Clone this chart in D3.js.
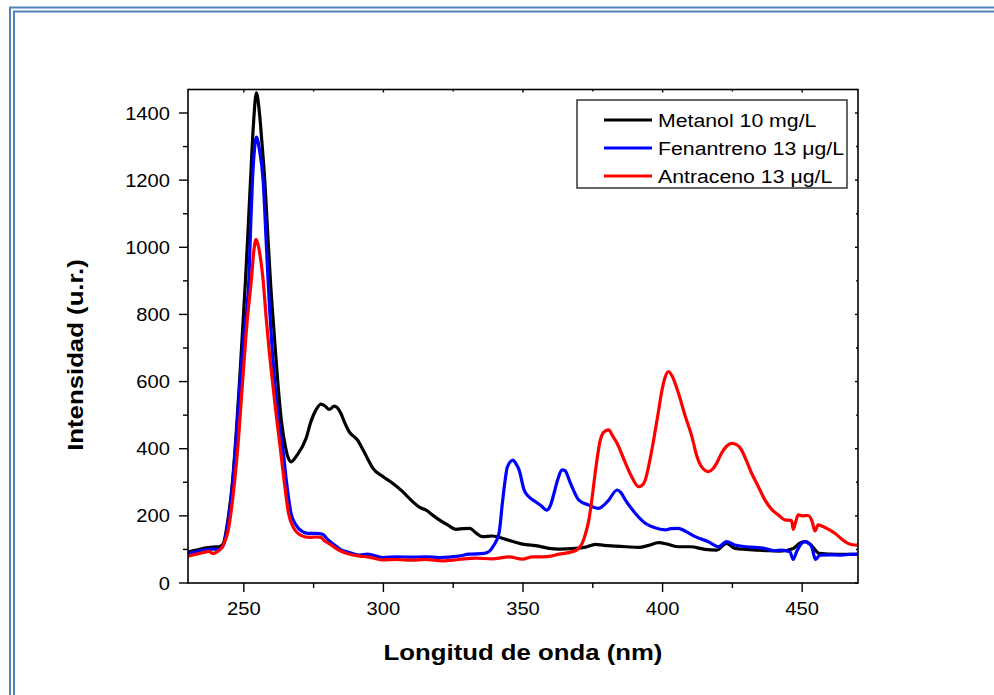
<!DOCTYPE html>
<meta charset="utf-8">
<style>
body { margin: 0; background: #fff; }
text { font-family: "Liberation Sans", Arial, sans-serif; fill: #000; }
</style>
<body>
<script src="https://cdn.jsdelivr.net/npm/d3@7"></script>
<script>
'use strict';

// emission spectra (nm, u.r.)
const metanolX = [230, 233, 236, 239, 241, 242.5, 244.3, 246, 247.3, 248.5, 249.6, 250.6, 251.5, 252.4, 253.4, 254.5, 255.6, 256.5, 257.5, 258.5, 259.5, 260.8, 262.1, 263.5, 264.9, 265.8, 266.9, 269, 272.3, 274, 275.8, 277.6, 279, 280.6, 282.4, 284.8, 286, 287.7, 290.7, 292.5, 294.3, 296.2, 299.8, 303.3, 306.9, 310.5, 313, 315.3, 318, 320, 323, 326, 328.5, 331, 333, 335.5, 339, 343.8, 349.8, 355.7, 359.3, 363, 368.8, 372, 376, 379, 383.1, 387, 391.4, 395, 398.6, 402, 405.7, 410, 415.2, 419.4, 422.9, 426, 430, 434.3, 438, 442, 446.8, 449, 451, 453, 454.5, 456, 460, 465, 470];
const metanolY = [93, 98, 104, 107, 108, 115, 188, 307, 450, 605, 760, 903, 1050, 1200, 1360, 1460, 1400, 1310, 1200, 1050, 903, 750, 605, 480, 406, 375, 361, 380, 431, 480, 515, 533, 528, 517, 527, 505, 480, 451, 426, 400, 371, 342, 317, 297, 272, 242, 225, 217, 200, 188, 173, 160, 162, 163, 150, 138, 140, 130, 116, 110, 103, 101, 103, 106, 115, 112, 110, 108, 106, 112, 120, 115, 108, 108, 100, 98, 118, 103, 100, 98, 96, 95, 103, 118, 123, 115, 100, 88, 86, 85, 85];

const fenantrenoX = [230, 233, 236, 239, 241, 242.5, 244.3, 246, 247.5, 248.7, 250.3, 251.8, 252.4, 253.1, 253.8, 254.5, 255.6, 256.9, 258.1, 259.2, 260.2, 261.2, 262.5, 263.9, 265.3, 266.9, 268.5, 271, 273, 276, 278.2, 280, 283, 285, 287, 291.4, 294.3, 299.8, 305, 310, 315.3, 320, 327, 330.7, 336, 338, 339.6, 341.4, 342.6, 343.5, 344.4, 346.4, 347.5, 348.6, 350.4, 352.1, 354.5, 356.5, 358.5, 360, 361.1, 362.5, 364, 365, 367, 370, 373.6, 377.1, 379, 380.7, 383.7, 385, 386.7, 390.2, 393.8, 397, 401, 403, 405.7, 408, 411.7, 416.4, 420, 422.9, 425.9, 430, 433.1, 436, 440.2, 442.6, 445.6, 446.8, 448, 449.5, 451, 452.3, 453.4, 454.8, 456.3, 460, 464, 467, 470];
const fenantrenoY = [88, 94, 99, 101, 100, 110, 178, 300, 460, 605, 760, 903, 1050, 1200, 1290, 1328, 1290, 1200, 1000, 820, 690, 590, 480, 406, 300, 208, 175, 153, 148, 148, 145, 130, 110, 98, 93, 83, 86, 76, 78, 77, 78, 76, 80, 86, 88, 95, 113, 148, 237, 300, 346, 366, 355, 337, 277, 257, 242, 230, 217, 235, 267, 310, 337, 335, 297, 247, 232, 222, 232, 247, 277, 270, 247, 208, 178, 165, 158, 162, 163, 155, 138, 123, 108, 123, 113, 108, 106, 104, 96, 98, 93, 70, 93, 115, 123, 118, 108, 70, 83, 84, 83, 85, 86];

const antracenoX = [230, 233, 236, 237.5, 238.9, 240.5, 241.9, 243, 244.3, 246, 247.8, 249.6, 251.2, 252.7, 253.6, 254.4, 255.3, 256.1, 256.9, 258, 259.1, 260.2, 261.6, 263, 264.5, 266, 267.8, 270.5, 273.5, 276, 277.6, 279, 281, 284, 287, 291.4, 294.3, 299.8, 305, 310, 315, 321.2, 327, 333.1, 339, 345, 349.8, 353.3, 357, 360, 362.9, 367.6, 369.5, 371.2, 372.5, 373.6, 375, 376, 377.7, 379, 380.7, 382, 383.7, 386.7, 389, 391.4, 392.5, 393.8, 395.3, 396.8, 398.3, 399.8, 401, 402.1, 403.5, 405.7, 408, 410.5, 412.2, 414, 416.4, 418, 419.4, 421, 423, 424.8, 426.5, 428.3, 430, 431.9, 434.3, 436.7, 439, 441.4, 443.8, 446.2, 446.8, 447.6, 448.6, 450, 452.1, 453.5, 454.6, 455.7, 457, 459, 461.7, 464, 466.4, 468, 470];
const antracenoY = [80, 86, 92, 94, 88, 93, 103, 120, 153, 250, 400, 605, 780, 903, 990, 1024, 1000, 960, 903, 790, 690, 605, 500, 406, 300, 208, 165, 142, 136, 137, 136, 125, 115, 98, 88, 80, 78, 69, 70, 68, 70, 66, 70, 74, 72, 78, 71, 78, 78, 80, 86, 93, 100, 118, 150, 188, 270, 337, 426, 450, 456, 440, 416, 357, 315, 287, 290, 307, 360, 426, 500, 575, 615, 630, 615, 565, 500, 436, 380, 346, 332, 340, 357, 385, 408, 416, 412, 396, 365, 327, 287, 247, 220, 203, 188, 186, 160, 180, 203, 200, 201, 185, 155, 173, 170, 162, 148, 132, 118, 114, 113];

const seriesNames = ["Metanol 10 mg/L", "Fenantreno 13 \u03bcg/L", "Antraceno 13 \u03bcg/L"];
const seriesColors = ["#000000", "#0000ff", "#ff0000"];

const xTicks = [250, 300, 350, 400, 450];
const xMinorTicks = [275, 325, 375, 425];
const yTicks = [0, 200, 400, 600, 800, 1000, 1200, 1400];
const yMinorTicks = [100, 300, 500, 700, 900, 1100, 1300];

const W = 994, H = 695;
const plot = {left: 188, right: 858, top: 89.5, bottom: 583};
const sx = 1.12; // glyphs in the picture are a bit wider than Arial

const svg = d3.select("body").append("svg")
    .attr("width", W)
    .attr("height", H);

// double blue frame round the figure
[[10, 7.5], [14, 11.5]].forEach(function(p) {
  svg.append("path")
      .attr("d", "M" + p[0] + "," + (H + 5) + "V" + p[1] + "H" + (W + 5))
      .attr("fill", "none")
      .attr("stroke", "#4f81bd")
      .attr("stroke-width", 2);
});

const x = d3.scaleLinear().domain([230, 470]).range([plot.left, plot.right]);
const y = d3.scaleLinear().domain([0, 1470]).range([plot.bottom, plot.top]);

function label(g, tx, ty, str, size, opts) {
  opts = opts || {};
  return g.append("text")
      .attr("transform", "translate(" + tx + "," + ty + ")" + (opts.rotate ? " rotate(-90)" : "") + " scale(" + sx + ",1)")
      .attr("text-anchor", opts.anchor || "middle")
      .attr("font-size", size)
      .attr("font-weight", opts.bold ? "bold" : null)
      .text(str);
}

// curves, drawn black, blue, red so red ends on top
const line = d3.line()
    .x(d => x(d[0]))
    .y(d => y(d[1]))
    .curve(d3.curveMonotoneX);

const series = [
  d3.zip(metanolX, metanolY),
  d3.zip(fenantrenoX, fenantrenoY),
  d3.zip(antracenoX, antracenoY)
];

svg.append("clipPath").attr("id", "clip")
  .append("rect")
    .attr("x", plot.left).attr("y", plot.top)
    .attr("width", plot.right - plot.left).attr("height", plot.bottom - plot.top);

svg.append("g").attr("clip-path", "url(#clip)")
  .selectAll("path")
  .data(series)
  .enter().append("path")
    .attr("d", line)
    .attr("fill", "none")
    .attr("stroke", (d, i) => seriesColors[i])
    .attr("stroke-width", 3.2)
    .attr("stroke-linejoin", "round");

// axes
const axes = svg.append("g").attr("stroke", "#000");

axes.append("rect")
    .attr("x", plot.left).attr("y", plot.top)
    .attr("width", plot.right - plot.left).attr("height", plot.bottom - plot.top)
    .attr("fill", "none")
    .attr("stroke-width", 1.6);

function ticks(values, len, side) {
  values.forEach(function(v) {
    const l = axes.append("line").attr("stroke-width", 1.4);
    if (side === "bottom") l.attr("x1", x(v)).attr("x2", x(v)).attr("y1", plot.bottom).attr("y2", plot.bottom + len);
    if (side === "top") l.attr("x1", x(v)).attr("x2", x(v)).attr("y1", plot.top).attr("y2", plot.top + len);
    if (side === "left") l.attr("x1", plot.left).attr("x2", plot.left - len).attr("y1", y(v)).attr("y2", y(v));
    if (side === "right") l.attr("x1", plot.right).attr("x2", plot.right - len).attr("y1", y(v)).attr("y2", y(v));
  });
}
ticks(xTicks, 9, "bottom");
ticks(xMinorTicks, 5, "bottom");
ticks(xTicks, 3, "top");
ticks(xMinorTicks, 2, "top");
ticks(yTicks, 9, "left");
ticks(yMinorTicks, 5, "left");
ticks(yTicks, 3, "right");
ticks(yMinorTicks, 2, "right");

const labels = svg.append("g");
xTicks.forEach(v => label(labels, x(v), plot.bottom + 32, v, 18));
yTicks.forEach(v => label(labels, plot.left - 18, y(v) + 6.5, v, 18, {anchor: "end"}));

label(labels, 523, 660, "Longitud de onda (nm)", 23, {bold: true});
label(labels, 83, 355, "Intensidad (u.r.)", 23, {bold: true, rotate: true});

// legend
const legend = svg.append("g");
legend.append("rect")
    .attr("x", 577).attr("y", 100)
    .attr("width", 270).attr("height", 88)
    .attr("fill", "#fff")
    .attr("stroke", "#000")
    .attr("stroke-width", 1.2);

seriesNames.forEach(function(name, i) {
  const ly = 120 + i * 28;
  legend.append("line")
      .attr("x1", 604).attr("x2", 652)
      .attr("y1", ly).attr("y2", ly)
      .attr("stroke", seriesColors[i])
      .attr("stroke-width", 3.2);
  label(legend, 658, ly + 7, name, 19, {anchor: "start"});
});
</script>
</body>
